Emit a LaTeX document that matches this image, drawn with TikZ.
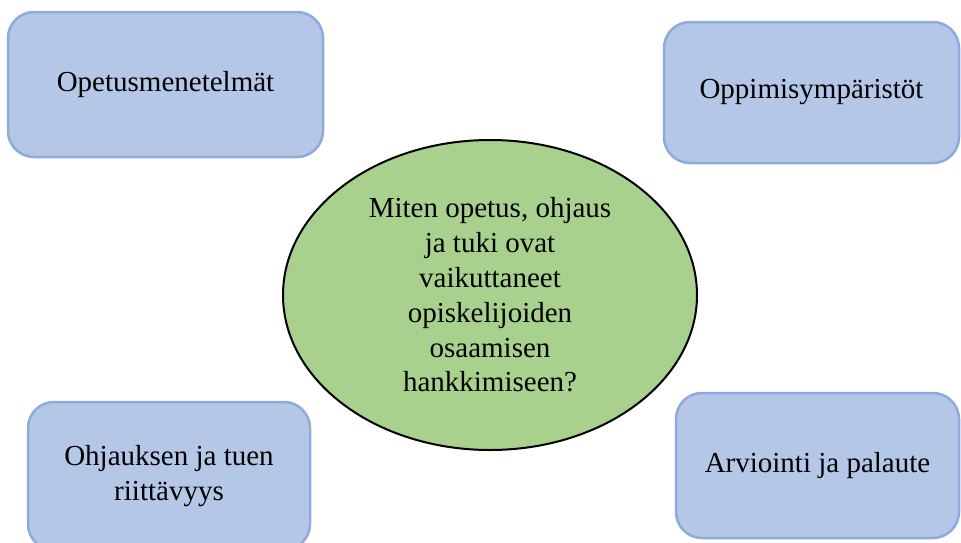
\documentclass[tikz,border=0pt]{standalone}
\usepackage{fontspec}
\setmainfont{Liberation Serif}
\usetikzlibrary{shapes.geometric}

\definecolor{boxfill}{RGB}{180,199,231}
\definecolor{boxline}{RGB}{143,170,220}
\definecolor{ovalfill}{RGB}{169,209,142}

\begin{document}
\begin{tikzpicture}[
    x=1pt, y=-1pt,
    topic/.style={rectangle, draw=boxline, fill=boxfill, line width=2.5pt, rounded corners=26pt, align=center, font=\fontsize{29}{34.8}\selectfont},
    question/.style={ellipse, draw=black, fill=ovalfill, line width=2pt, align=center, minimum width=414pt, minimum height=310pt, inner sep=0pt, font=\fontsize{29}{34.8}\selectfont}
]

\useasboundingbox (0,0) rectangle (961,542);

% Nodes
\node [question] (center) at (490,295) {Miten opetus, ohjaus\\ja tuki ovat\\vaikuttaneet\\opiskelijoiden\\osaamisen\\hankkimiseen?};
\node [topic, minimum width=315pt, minimum height=145pt] (methods) at (165.5,84.5) {Opetusmenetelmät};
\node [topic, minimum width=295pt, minimum height=141pt] (envs) at (811.5,92.5) {Oppimisympäristöt};
\node [topic, minimum width=282pt, minimum height=148pt] (support) at (169,476) {Ohjauksen ja tuen\\riittävyys};
\node [topic, minimum width=283pt, minimum height=145pt] (feedback) at (817.5,465.5) {Arviointi ja palaute};

\end{tikzpicture}
\end{document}
